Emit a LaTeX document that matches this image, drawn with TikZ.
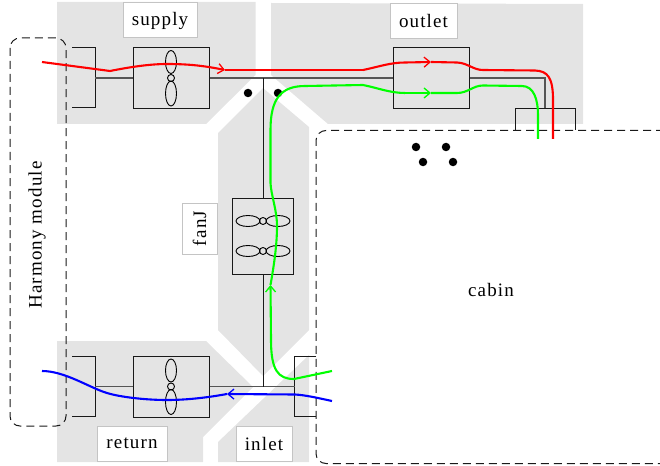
\documentclass[tikz,border=0pt]{standalone}
\usepackage{fontspec}
\setmainfont[LetterSpace=6]{Liberation Serif}
\usepackage{xcolor}
\usetikzlibrary{arrows.meta,calc,positioning}
\definecolor{zonefill}{HTML}{E4E4E4}
\definecolor{tagline}{HTML}{C4C4C4}
\definecolor{wirecol}{HTML}{555555}
\tikzset{
  zone/.style={fill=zonefill, draw=none},
  bay/.style={draw=black!90, line width=1pt, rounded corners=10pt, dash pattern=on 8pt off 5pt},
  fanbox/.style={draw=black!90, line width=1pt, inner sep=0pt, minimum width=76pt, minimum height=61pt},
  tallfanbox/.style={fanbox, minimum width=61pt, minimum height=76pt},
  duct/.style={draw=black!90, line width=1pt},
  wire/.style={draw=wirecol, line width=1.3pt},
  blade/.style={draw=black, line width=0.9pt},
  tag/.style={draw=tagline, line width=1pt, fill=white, inner sep=0pt, font=\fontsize{19}{22}\selectfont},
  plain/.style={font=\fontsize{19}{22}\selectfont, inner sep=0pt},
  flow/.style={line width=2.1pt},
  flowhead/.style={flow, -{Straight Barb[length=6pt,width=10pt,line width=1.3pt]}},
  pin/.style={circle, fill=black, inner sep=0pt, minimum size=8.5pt}
}
% vertical and horizontal fan blades, around a centre
\newcommand{\fanup}[2]{%
  \draw[blade] (#1,#2-16) ellipse (5.5 and 11.5);
  \draw[blade] (#1,#2) circle (3.5);
  \draw[blade] (#1,#2+15.5) ellipse (5.5 and 12.5);
}
\newcommand{\fanacross}[2]{%
  \draw[blade] (#1-15,#2) ellipse (12 and 5.5);
  \draw[blade] (#1,#2) circle (3.5);
  \draw[blade] (#1+15,#2) ellipse (12 and 5.5);
}
\begin{document}
\begin{tikzpicture}[x=1pt,y=-1pt]
\path[use as bounding box] (0,0) rectangle (660,465);

\fill[zone] (57,2) -- (255.5,2) -- (255.5,75) -- (206,124) -- (57,124) -- cycle;
\fill[zone] (271,3) -- (583,4) -- (583,124) -- (328,124) -- (271,75) -- cycle;
\fill[zone] (218,133) -- (263,88) -- (309,127) -- (309,330) -- (263,376) -- (218,330) -- cycle;
\fill[zone] (57,341) -- (206,341) -- (253,387) -- (203,437) -- (203,462) -- (57,462) -- cycle;
\fill[zone] (218,462) -- (218,442) -- (309,355) -- (309,462) -- cycle;

\draw[bay] (10,38) rectangle (66,426);
\draw[bay, fill=white] (690,130.5) -- (316,130.5) -- (316,463.5) -- (690,463.5);

\node[plain, rotate=90] (harmony) at (37,235) {Harmony module};
\node[plain] (cabin) at (491,290) {cabin};

\node[tag, minimum width=74pt, minimum height=35pt] (supply) at (160,20.5) {supply};
\node[tag, minimum width=67pt, minimum height=35pt] (outlet) at (423.5,21) {outlet};
\node[tag, rotate=90, minimum width=51pt, minimum height=35pt] (fanJ) at (199.5,228.5) {fanJ};
\node[tag, minimum width=70pt, minimum height=35pt] (return) at (132,443.5) {return};
\node[tag, minimum width=56pt, minimum height=35pt] (inlet) at (264,443.5) {inlet};

\node[fanbox] (supplyfan) at (171,78) {};
\node[fanbox] (outletbox) at (431,78) {};
\node[fanbox] (returnfan) at (171,386.5) {};
\node[tallfanbox] (fanJbox) at (263,236) {};
\fanup{171}{78}
\fanup{171}{386.5}
\fanacross{263}{221}
\fanacross{263}{251}

\coordinate (supplyport) at (95,78);
\coordinate (returnport) at (95,386.5);
\coordinate (inletport) at (294.5,386.5);
\coordinate (cabinport) at (545,108.5);
\coordinate (topjoin) at (263,78);
\coordinate (lowjoin) at (263,386.5);

\draw[duct] (72,47.5) -- (95,47.5) -- (95,108) -- (72,108);
\draw[duct] (72,356) -- (95,356) -- (95,416.5) -- (72,416.5);
\draw[duct] (316,356) -- (294.5,356) -- (294.5,416.5) -- (316,416.5);
\draw[duct] (515,130.5) -- (515,108.5) -- (575,108.5) -- (575,130.5);

\draw[wire] (supplyport) -- (supplyfan);
\draw[wire] (supplyfan) -- (outletbox);
\draw[wire] (outletbox.east) -- (545,78) -- (cabinport);
\draw[wire] (returnport) -- (returnfan);
\draw[wire] (returnfan) -- (inletport);
\draw[duct] (topjoin) -- (fanJbox);
\draw[duct] (fanJbox) -- (lowjoin);

\node[pin] (pinA) at (248,93) {};
\node[pin] (pinB) at (278,93) {};
\node[pin] (pinC) at (416,147) {};
\node[pin] (pinD) at (446,147) {};
\node[pin] (pinE) at (423,162) {};
\node[pin] (pinF) at (453,162) {};

\coordinate (redstart) at (42,62);
\coordinate (redhead) at (225,70);
\coordinate (redbend) at (363,70);
\coordinate (redmid) at (431,62);
\coordinate (redend) at (553,139);
\draw[flowhead, red] (redstart) -- (110,71) .. controls (130,67) and (150,64) .. (167,64) .. controls (190,64) and (205,66) .. (redhead);
\draw[flow, red] (redhead) -- (redbend);
\draw[flowhead, red] (redbend) .. controls (378,67) and (390,62.5) .. (405,62.5) -- (redmid);
\draw[flow, red] (redmid) -- (457,62.5) .. controls (468,63) and (473,70) .. (483,70) -- (535,70.5) .. controls (548,71) and (553,78) .. (553,100) -- (redend);

\coordinate (greenstart) at (332,371);
\coordinate (greenhead) at (270.5,285);
\coordinate (greenmid) at (431,93);
\coordinate (greenend) at (538,139);
\draw[flowhead, green] (greenstart) -- (294,379) .. controls (278,379) and (271,370) .. (271,340) -- (greenhead);
\draw[flow, green] (greenhead) .. controls (274,265) and (277,245) .. (277,226) .. controls (277,210) and (271,195) .. (270.5,183) -- (270.5,130) .. controls (270.5,100) and (280,86) .. (305,86) -- (363,85) .. controls (378,88) and (390,93) .. (405,93);
\draw[flowhead, green] (405,93) -- (greenmid);
\draw[flow, green] (greenmid) -- (457,93) .. controls (468,93) and (473,85.5) .. (483,85.5) -- (522,86) .. controls (534,86) and (538,100) .. (538,115) -- (greenend);

\coordinate (bluestart) at (332,401);
\coordinate (bluehead) at (227,394);
\coordinate (blueend) at (42,371);
\draw[flowhead, blue] (bluestart) .. controls (318,398) and (305,395) .. (295,394.5) -- (bluehead);
\draw[flow, blue] (bluehead) .. controls (205,398) and (185,400) .. (167,400) .. controls (145,400) and (120,397) .. (107,393) .. controls (90,388) and (65,371) .. (blueend);

\end{tikzpicture}
\end{document}
